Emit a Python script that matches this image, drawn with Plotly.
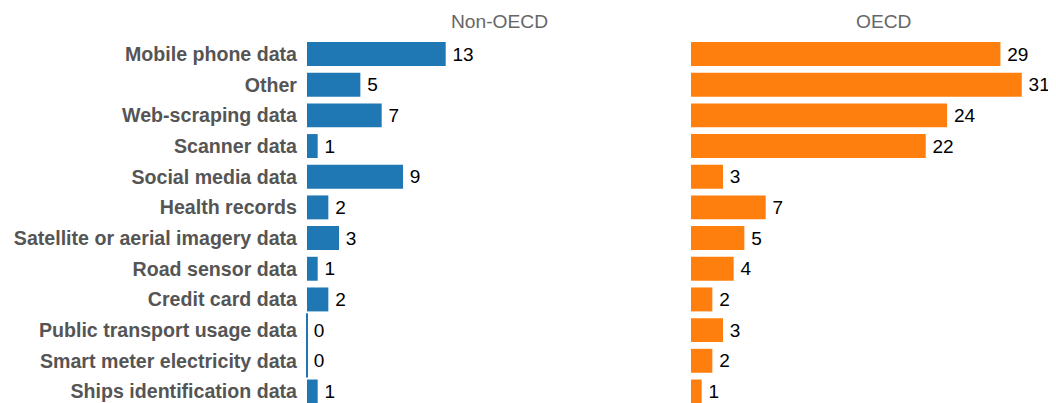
import plotly.graph_objects as go
from plotly.subplots import make_subplots

categories = ["Mobile phone data", "Other", "Web-scraping data", "Scanner data",
              "Social media data", "Health records", "Satellite or aerial imagery data",
              "Road sensor data", "Credit card data", "Public transport usage data",
              "Smart meter electricity data", "Ships identification data"]
non_oecd = [13, 5, 7, 1, 9, 2, 3, 1, 2, 0, 0, 1]
oecd = [29, 31, 24, 22, 3, 7, 5, 4, 2, 3, 2, 1]
panel_titles = ["Non-OECD", "OECD"]

BLUE = "#1f77b4"
ORANGE = "#ff7f0e"
FONT = "Liberation Sans, Arial, sans-serif"

OFF = 8  # page body margin
W, H = 1056 - OFF, 403 - OFF
L, R, T, B = 307 - OFF, 0, 39 - OFF, 0
pw = W - L - R
ph = H - T - B
scale = 10.67  # px per unit

fig = make_subplots(rows=1, cols=2, shared_yaxes=False, horizontal_spacing=0)

for i, (vals, col) in enumerate([(non_oecd, BLUE), (oecd, ORANGE)], start=1):
    fig.add_trace(go.Bar(
        y=categories, x=vals, orientation="h",
        marker=dict(color=col, line=dict(width=0)),
        texttemplate="\u2009%{x}", textposition="outside",
        textfont=dict(family=FONT, size=19, color="black"),
        cliponaxis=False, showlegend=False, hoverinfo="skip",
    ), row=1, col=i)
    zeros = [c for c, v in zip(categories, vals) if v == 0]
    if zeros:
        fig.add_trace(go.Scatter(
            y=zeros, x=[0] * len(zeros), mode="markers",
            marker=dict(symbol="line-ns", size=24, line=dict(width=2, color=col)),
            showlegend=False, hoverinfo="skip", cliponaxis=False,
        ), row=1, col=i)

left_end = 688 - OFF
right_start = 691 - OFF
d1 = (left_end - L) / pw
d2 = (right_start - L) / pw

fig.update_xaxes(visible=False, showgrid=False, zeroline=False)
fig.layout.xaxis.update(domain=[0, d1], range=[0, (left_end - L) / scale])
fig.layout.xaxis2.update(domain=[d2, 1], range=[0, (W - R - right_start) / scale])

row_px = 30.68
span = ph / row_px
top_off = (54 - OFF - T) / row_px
yr = [span - top_off, -top_off]
fig.update_yaxes(categoryorder="array", categoryarray=categories, range=yr,
                 showgrid=False, zeroline=False, showline=False, automargin=False)
fig.layout.yaxis.update(showticklabels=True, ticklabelstandoff=9,
                        tickfont=dict(family=FONT, size=19.6, color="#555555", weight="bold"))
fig.layout.yaxis2.update(showticklabels=False)

for t, cx in zip(panel_titles, [499 - OFF, 883 - OFF]):
    fig.add_annotation(text=t, x=(cx - L) / pw, y=(H - (21.5 - OFF) - B) / ph, xref="paper", yref="paper",
                       showarrow=False, xanchor="center", yanchor="middle",
                       font=dict(family=FONT, size=19.2, color="#666666"))

fig.update_layout(
    width=W, height=H, bargap=0.22,
    margin=dict(l=L, r=R, t=T, b=B),
    paper_bgcolor="white", plot_bgcolor="white",
    font=dict(family=FONT),
)

fig.write_html("out.html")
